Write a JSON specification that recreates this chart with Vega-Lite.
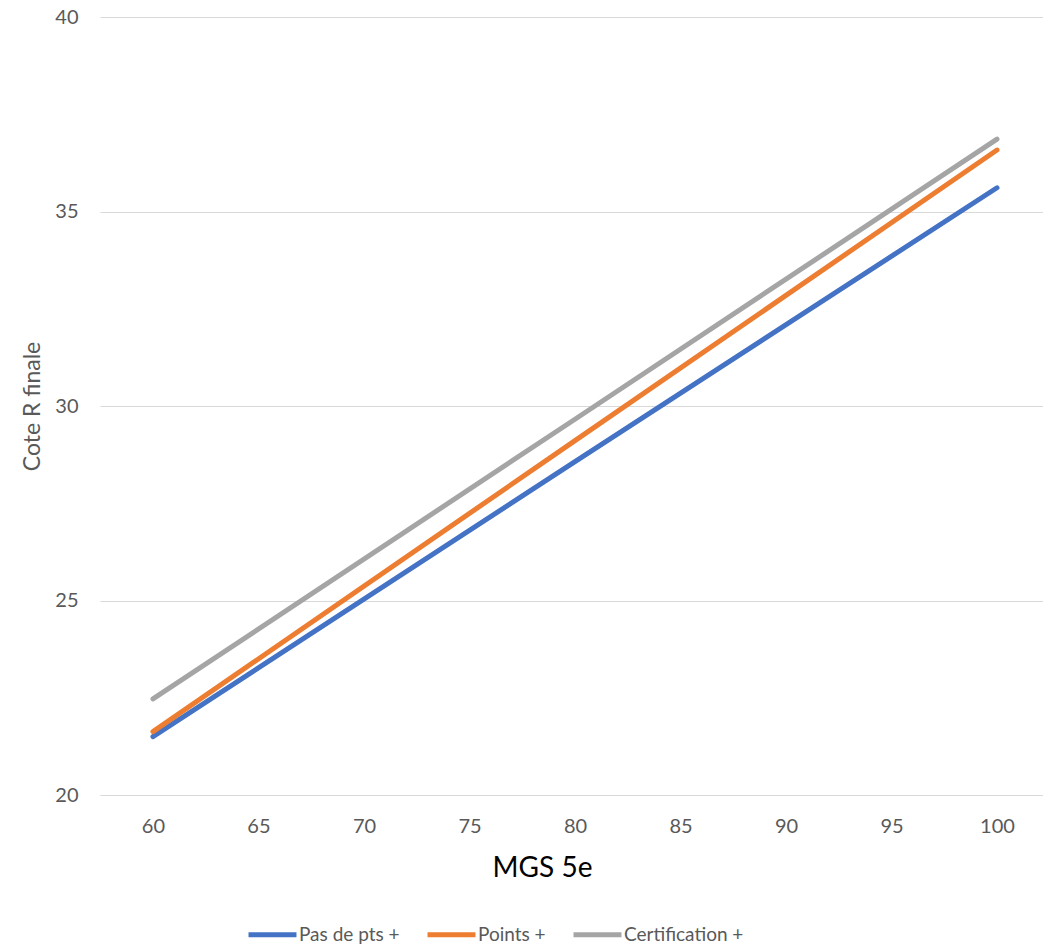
{
  "$schema": "https://vega.github.io/schema/vega-lite/v6.json",
  "autosize": "none",
  "width": 943,
  "height": 778,
  "padding": {"left": 100, "top": 17, "right": 0, "bottom": 151},
  "background": "white",
  "config": {
    "view": {"stroke": null},
    "font": "Lato",
    "axis": {"labelFont": "Lato", "titleFont": "Lato"}
  },
  "data": {
    "values": [
      {"mgs": 60, "cote": 21.5, "serie": "Pas de pts +"},
      {"mgs": 80, "cote": 28.57, "serie": "Pas de pts +"},
      {"mgs": 100, "cote": 35.61, "serie": "Pas de pts +"},
      {"mgs": 60, "cote": 21.63, "serie": "Points +"},
      {"mgs": 80, "cote": 29.11, "serie": "Points +"},
      {"mgs": 100, "cote": 36.58, "serie": "Points +"},
      {"mgs": 60, "cote": 22.47, "serie": "Certification +"},
      {"mgs": 80, "cote": 29.66, "serie": "Certification +"},
      {"mgs": 100, "cote": 36.86, "serie": "Certification +"}
    ]
  },
  "mark": {"type": "line", "strokeWidth": 5, "strokeCap": "round"},
  "encoding": {
    "x": {
      "field": "mgs",
      "type": "quantitative",
      "scale": {"domain": [57.49, 102.18], "nice": false, "zero": false},
      "axis": {
        "values": [60, 65, 70, 75, 80, 85, 90, 95, 100],
        "grid": false,
        "domain": true,
        "domainColor": "#D9D9D9",
        "domainWidth": 1,
        "ticks": false,
        "labelFontSize": 20,
        "labelColor": "#595959",
        "labelPadding": 21,
        "title": "MGS 5e",
        "titleFontSize": 28,
        "titleFontWeight": "normal",
        "titleColor": "#000000",
        "titlePadding": 18,
        "titleX": 442
      }
    },
    "y": {
      "field": "cote",
      "type": "quantitative",
      "scale": {"domain": [20, 40], "nice": false, "zero": false},
      "axis": {
        "values": [20, 25, 30, 35, 40],
        "grid": true,
        "gridColor": "#D9D9D9",
        "gridWidth": 1,
        "domain": false,
        "ticks": false,
        "labelFontSize": 20,
        "labelColor": "#595959",
        "labelPadding": 22,
        "title": "Cote R finale",
        "titleFontSize": 23,
        "titleFontWeight": "normal",
        "titleColor": "#595959",
        "titlePadding": 10
      }
    },
    "color": {
      "field": "serie",
      "type": "nominal",
      "sort": ["Pas de pts +", "Points +", "Certification +"],
      "scale": {
        "domain": ["Pas de pts +", "Points +", "Certification +"],
        "range": ["#4472C4", "#ED7D31", "#A5A5A5"]
      },
      "legend": {
        "title": null,
        "orient": "none",
        "direction": "horizontal",
        "legendX": 146,
        "legendY": 891,
        "symbolType": "stroke",
        "symbolStrokeWidth": 5,
        "symbolSize": 2300,
        "labelFontSize": 19,
        "labelColor": "#595959",
        "labelOffset": 0,
        "columnPadding": 17
      }
    }
  }
}
